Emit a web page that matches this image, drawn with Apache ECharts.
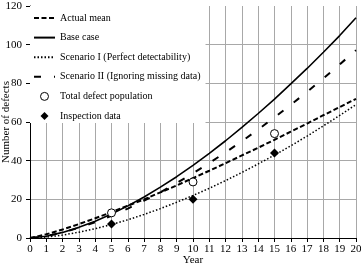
<!DOCTYPE html>
<html>
<head>
    <meta charset="utf-8">
    <title>defects</title>
    <script src="https://cdn.jsdelivr.net/npm/echarts@6/dist/echarts.min.js"></script>
</head>
<body style="margin:0">
    <div id="main" style="width:361px;height:270px;"></div>
    <script type="text/javascript">
        var years = [0, 1, 2, 3, 4, 5, 6, 7, 8, 9, 10, 11, 12, 13, 14, 15, 16, 17, 18, 19, 20];
        var actualMean = [0, 1.9, 4.4, 7.2, 10.2, 13.4, 16.7, 20.0, 23.6, 27.2, 31.0, 34.8, 38.7, 42.7, 46.7, 50.8, 55.0, 59.2, 63.5, 67.7, 72.0];
        var baseCase = [0, 0.9, 2.9, 5.5, 8.7, 12.4, 16.6, 21.2, 26.3, 31.7, 37.6, 43.8, 50.3, 57.2, 64.4, 71.8, 79.7, 87.7, 96.1, 104.7, 113.9];
        var scenario1 = [0, 0.5, 1.5, 3.0, 4.8, 7.0, 9.4, 12.2, 15.2, 18.5, 22.0, 25.7, 29.7, 33.9, 38.3, 42.9, 47.7, 52.7, 58.0, 63.4, 69.0];
        var scenario2 = [0, 1.0, 2.8, 5.3, 8.2, 11.5, 15.2, 19.3, 23.7, 28.4, 33.5, 38.8, 44.3, 50.1, 56.1, 62.4, 68.9, 75.6, 82.6, 89.8, 97.1];
        var sampleYears = [5, 10, 15];
        var totalPopulation = [13, 29, 54];
        var inspectionData = [7.3, 20, 44];

        function pairs(xs, ys) {
            return xs.map(function (x, i) { return [x, ys[i]]; });
        }

        var font = 'Liberation Serif';
        var myChart = echarts.init(document.getElementById('main'));

        var lineSeries = function (name, values, width, type) {
            return {
                name: name,
                type: 'line',
                data: pairs(years, values),
                symbol: 'none',
                showSymbol: false,
                lineStyle: { color: '#000', width: width, type: type },
                itemStyle: { color: '#000' },
                z: 3
            };
        };

        // legend entries for lines: hide the marker ECharts puts in the middle
        var noMarker = { opacity: 0 };

        var option = {
            animation: false,
            backgroundColor: '#fff',
            grid: { left: 30, right: 5, top: 6, bottom: 32, outerBoundsMode: 'none' },
            legend: {
                left: 30,
                top: 6,
                orient: 'vertical',
                padding: [5, 5, 0, 3],
                backgroundColor: '#fff',
                itemWidth: 21,
                itemHeight: 8,
                itemGap: 5.6,
                symbolKeepAspect: true,
                textStyle: { fontFamily: font, fontSize: 10, color: '#000', lineHeight: 14 },
                data: [
                    { name: 'Actual mean', itemStyle: noMarker },
                    { name: 'Base case', itemStyle: noMarker },
                    { name: 'Scenario I (Perfect detectability)', itemStyle: noMarker },
                    { name: 'Scenario II (Ignoring missing data)', itemStyle: noMarker },
                    { name: 'Total defect population', icon: 'circle',
                        itemStyle: { color: '#fff', borderColor: '#000', borderWidth: 1 } },
                    { name: 'Inspection data', icon: 'path://M0,-1L1,0L0,1L-1,0Z',
                        itemStyle: { color: '#000', borderWidth: 0 } }
                ],
                z: 10
            },
            xAxis: {
                type: 'value',
                min: 0,
                max: 20,
                interval: 1,
                name: 'Year',
                nameLocation: 'middle',
                nameGap: 17,
                nameMoveOverlap: false,
                nameTextStyle: { fontFamily: font, fontSize: 11, color: '#000' },
                axisLine: { show: true, lineStyle: { color: '#000', width: 1 } },
                axisTick: { show: true, inside: false, length: 4, lineStyle: { color: '#000' } },
                axisLabel: { fontFamily: font, fontSize: 11, color: '#000', margin: 6 },
                splitLine: { show: true, lineStyle: { color: '#a8a8a8', width: 1 } }
            },
            yAxis: {
                type: 'value',
                min: 0,
                max: 120,
                interval: 20,
                name: 'Number of defects',
                nameLocation: 'middle',
                nameGap: 18,
                nameMoveOverlap: false,
                nameTextStyle: { fontFamily: font, fontSize: 11, color: '#000' },
                axisLine: { show: true, lineStyle: { color: '#000', width: 1 } },
                axisTick: { show: true, inside: false, length: 4, lineStyle: { color: '#000' } },
                axisLabel: { fontFamily: font, fontSize: 11, color: '#000', margin: 8 },
                splitLine: { show: true, showMaxLine: false, lineStyle: { color: '#a8a8a8', width: 1 } }
            },
            series: [
                lineSeries('Actual mean', actualMean, 2, [5, 2.5]),
                lineSeries('Base case', baseCase, 1.6, 'solid'),
                lineSeries('Scenario I (Perfect detectability)', scenario1, 1.5, [1.5, 2]),
                lineSeries('Scenario II (Ignoring missing data)', scenario2, 2, [7, 13]),
                {
                    name: 'Total defect population',
                    type: 'scatter',
                    data: pairs(sampleYears, totalPopulation),
                    symbol: 'circle',
                    symbolSize: 8,
                    itemStyle: { color: '#fff', borderColor: '#000', borderWidth: 1, opacity: 1 },
                    z: 4
                },
                {
                    name: 'Inspection data',
                    type: 'scatter',
                    data: pairs(sampleYears, inspectionData),
                    symbol: 'diamond',
                    symbolSize: 9,
                    itemStyle: { color: '#000', opacity: 1 },
                    z: 4
                }
            ]
        };

        myChart.setOption(option);
    </script>
</body>
</html>
